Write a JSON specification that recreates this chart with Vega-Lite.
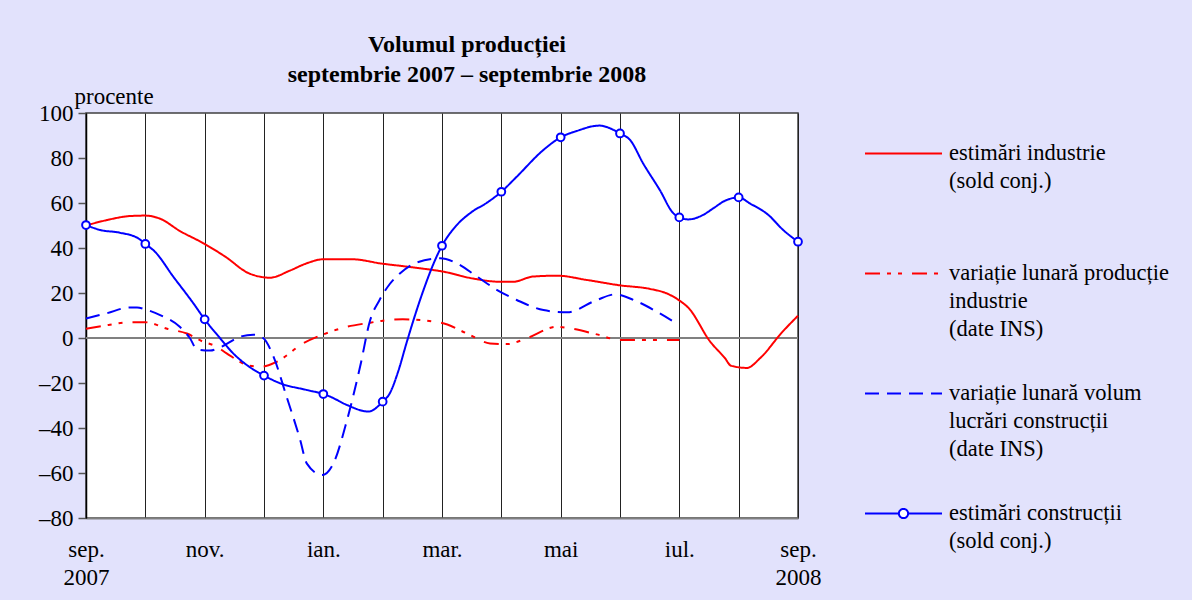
{
  "$schema": "https://vega.github.io/schema/vega-lite/v6.json",
  "width": 712,
  "height": 405,
  "autosize": {"type": "none"},
  "padding": {"left": 86, "top": 113, "right": 394, "bottom": 82},
  "background": "#e2e2fc",
  "view": {"fill": "white", "stroke": "#404040", "strokeWidth": 1.5},
  "config": {"font": "Liberation Serif"},
  "title": {
    "text": ["Volumul producției", "septembrie 2007 – septembrie 2008"],
    "font": "Liberation Serif",
    "fontSize": 24,
    "fontWeight": "bold",
    "lineHeight": 30,
    "anchor": "middle",
    "dx": 25,
    "dy": 27,
    "offset": 25,
    "color": "black"
  },
  "data": {
    "values": [
      {"s": "estimări industrie", "m": 0, "v": 50},
      {"s": "estimări industrie", "m": 0.35, "v": 52.4},
      {"s": "estimări industrie", "m": 0.74, "v": 54.2},
      {"s": "estimări industrie", "m": 1, "v": 54.4},
      {"s": "estimări industrie", "m": 1.25, "v": 53},
      {"s": "estimări industrie", "m": 1.58, "v": 47.6},
      {"s": "estimări industrie", "m": 2, "v": 41.8},
      {"s": "estimări industrie", "m": 2.35, "v": 36.1},
      {"s": "estimări industrie", "m": 2.75, "v": 28.7},
      {"s": "estimări industrie", "m": 3.1, "v": 26.8},
      {"s": "estimări industrie", "m": 3.44, "v": 30},
      {"s": "estimări industrie", "m": 3.72, "v": 33.2},
      {"s": "estimări industrie", "m": 4, "v": 35},
      {"s": "estimări industrie", "m": 4.48, "v": 35},
      {"s": "estimări industrie", "m": 5, "v": 33},
      {"s": "estimări industrie", "m": 5.29, "v": 32.1},
      {"s": "estimări industrie", "m": 5.63, "v": 31},
      {"s": "estimări industrie", "m": 6.02, "v": 29.5},
      {"s": "estimări industrie", "m": 6.51, "v": 26.5},
      {"s": "estimări industrie", "m": 6.98, "v": 25},
      {"s": "estimări industrie", "m": 7.2, "v": 25},
      {"s": "estimări industrie", "m": 7.53, "v": 27.3},
      {"s": "estimări industrie", "m": 7.94, "v": 27.7},
      {"s": "estimări industrie", "m": 8.44, "v": 25.8},
      {"s": "estimări industrie", "m": 9, "v": 23.4},
      {"s": "estimări industrie", "m": 9.51, "v": 21.8},
      {"s": "estimări industrie", "m": 9.79, "v": 19.8},
      {"s": "estimări industrie", "m": 10.01, "v": 16.5},
      {"s": "estimări industrie", "m": 10.15, "v": 13.5},
      {"s": "estimări industrie", "m": 10.52, "v": -1.6},
      {"s": "estimări industrie", "m": 10.77, "v": -9},
      {"s": "estimări industrie", "m": 10.87, "v": -12.3},
      {"s": "estimări industrie", "m": 11.14, "v": -13.3},
      {"s": "estimări industrie", "m": 11.36, "v": -9},
      {"s": "estimări industrie", "m": 11.73, "v": 2.5},
      {"s": "estimări industrie", "m": 12, "v": 9.9},

      {"s": "variație lunară producție industrie", "m": 0, "v": 4.1},
      {"s": "variație lunară producție industrie", "m": 0.38, "v": 5.8},
      {"s": "variație lunară producție industrie", "m": 0.74, "v": 7},
      {"s": "variație lunară producție industrie", "m": 1, "v": 7},
      {"s": "variație lunară producție industrie", "m": 1.38, "v": 4},
      {"s": "variație lunară producție industrie", "m": 1.7, "v": 2},
      {"s": "variație lunară producție industrie", "m": 1.97, "v": -1.6},
      {"s": "variație lunară producție industrie", "m": 2.2, "v": -3.8},
      {"s": "variație lunară producție industrie", "m": 2.37, "v": -6.8},
      {"s": "variație lunară producție industrie", "m": 2.76, "v": -12.3},
      {"s": "variație lunară producție industrie", "m": 2.97, "v": -12.7},
      {"s": "variație lunară producție industrie", "m": 3.22, "v": -10.5},
      {"s": "variație lunară producție industrie", "m": 3.66, "v": -2.4},
      {"s": "variație lunară producție industrie", "m": 4, "v": 1.6},
      {"s": "variație lunară producție industrie", "m": 4.4, "v": 5},
      {"s": "variație lunară producție industrie", "m": 4.79, "v": 6.8},
      {"s": "variație lunară producție industrie", "m": 5, "v": 7.7},
      {"s": "variație lunară producție industrie", "m": 5.34, "v": 8.3},
      {"s": "variație lunară producție industrie", "m": 5.98, "v": 6.8},
      {"s": "variație lunară producție industrie", "m": 6.42, "v": 2},
      {"s": "variație lunară producție industrie", "m": 6.81, "v": -2.4},
      {"s": "variație lunară producție industrie", "m": 7.1, "v": -2.7},
      {"s": "variație lunară producție industrie", "m": 7.43, "v": -0.1},
      {"s": "variație lunară producție industrie", "m": 7.94, "v": 5},
      {"s": "variație lunară producție industrie", "m": 8.16, "v": 4.3},
      {"s": "variație lunară producție industrie", "m": 8.61, "v": 1.6},
      {"s": "variație lunară producție industrie", "m": 9, "v": -0.9},
      {"s": "variație lunară producție industrie", "m": 10, "v": -0.9},

      {"s": "variație lunară volum lucrări construcții", "m": 0, "v": 8.7},
      {"s": "variație lunară volum lucrări construcții", "m": 0.35, "v": 11},
      {"s": "variație lunară volum lucrări construcții", "m": 0.74, "v": 13.6},
      {"s": "variație lunară volum lucrări construcții", "m": 0.86, "v": 13.6},
      {"s": "variație lunară volum lucrări construcții", "m": 1, "v": 12.7},
      {"s": "variație lunară volum lucrări construcții", "m": 1.25, "v": 10.2},
      {"s": "variație lunară volum lucrări construcții", "m": 1.58, "v": 5},
      {"s": "variație lunară volum lucrări construcții", "m": 1.75, "v": 0},
      {"s": "variație lunară volum lucrări construcții", "m": 1.87, "v": -5},
      {"s": "variație lunară volum lucrări construcții", "m": 2.09, "v": -5.6},
      {"s": "variație lunară volum lucrări construcții", "m": 2.29, "v": -3.8},
      {"s": "variație lunară volum lucrări construcții", "m": 2.6, "v": 0.6},
      {"s": "variație lunară volum lucrări construcții", "m": 2.82, "v": 1.5},
      {"s": "variație lunară volum lucrări construcții", "m": 2.99, "v": -0.1},
      {"s": "variație lunară volum lucrări construcții", "m": 3.16, "v": -8.3},
      {"s": "variație lunară volum lucrări construcții", "m": 3.38, "v": -26},
      {"s": "variație lunară volum lucrări construcții", "m": 3.61, "v": -45.3},
      {"s": "variație lunară volum lucrări construcții", "m": 3.72, "v": -55.7},
      {"s": "variație lunară volum lucrări construcții", "m": 3.98, "v": -60.9},
      {"s": "variație lunară volum lucrări construcții", "m": 4.17, "v": -55.7},
      {"s": "variație lunară volum lucrări construcții", "m": 4.4, "v": -36.4},
      {"s": "variație lunară volum lucrări construcții", "m": 4.62, "v": -12.7},
      {"s": "variație lunară volum lucrări construcții", "m": 4.79, "v": 8},
      {"s": "variație lunară volum lucrări construcții", "m": 4.95, "v": 17},
      {"s": "variație lunară volum lucrări construcții", "m": 5.12, "v": 24},
      {"s": "variație lunară volum lucrări construcții", "m": 5.29, "v": 28.7},
      {"s": "variație lunară volum lucrări construcții", "m": 5.58, "v": 33.6},
      {"s": "variație lunară volum lucrări construcții", "m": 5.97, "v": 35.4},
      {"s": "variație lunară volum lucrări construcții", "m": 6.25, "v": 33.2},
      {"s": "variație lunară volum lucrări construcții", "m": 6.59, "v": 27.3},
      {"s": "variație lunară volum lucrări construcții", "m": 6.93, "v": 21.3},
      {"s": "variație lunară volum lucrări construcții", "m": 7.26, "v": 16.9},
      {"s": "variație lunară volum lucrări construcții", "m": 7.71, "v": 12.4},
      {"s": "variație lunară volum lucrări construcții", "m": 8.11, "v": 11.4},
      {"s": "variație lunară volum lucrări construcții", "m": 8.61, "v": 16.9},
      {"s": "variație lunară volum lucrări construcții", "m": 8.92, "v": 19.4},
      {"s": "variație lunară volum lucrări construcții", "m": 9.23, "v": 16.9},
      {"s": "variație lunară volum lucrări construcții", "m": 9.62, "v": 11.7},
      {"s": "variație lunară volum lucrări construcții", "m": 9.95, "v": 6.5},

      {"s": "estimări construcții", "m": 0, "v": 50.2},
      {"s": "estimări construcții", "m": 0.24, "v": 48},
      {"s": "estimări construcții", "m": 0.57, "v": 46.8},
      {"s": "estimări construcții", "m": 0.88, "v": 44.3},
      {"s": "estimări construcții", "m": 1, "v": 41.8},
      {"s": "estimări construcții", "m": 1.16, "v": 38.4},
      {"s": "estimări construcții", "m": 1.47, "v": 27.3},
      {"s": "estimări construcții", "m": 1.81, "v": 15.4},
      {"s": "estimări construcții", "m": 2, "v": 8.3},
      {"s": "estimări construcții", "m": 2.26, "v": -0.1},
      {"s": "estimări construcții", "m": 2.48, "v": -6.8},
      {"s": "estimări construcții", "m": 2.71, "v": -12},
      {"s": "estimări construcții", "m": 3, "v": -16.7},
      {"s": "estimări construcții", "m": 3.27, "v": -20.1},
      {"s": "estimări construcții", "m": 3.72, "v": -23.1},
      {"s": "estimări construcții", "m": 4, "v": -24.9},
      {"s": "estimări construcții", "m": 4.11, "v": -26},
      {"s": "estimări construcții", "m": 4.4, "v": -29.8},
      {"s": "estimări construcții", "m": 4.76, "v": -32.7},
      {"s": "estimări construcții", "m": 5, "v": -28.3},
      {"s": "estimări construcții", "m": 5.12, "v": -24.6},
      {"s": "estimări construcții", "m": 5.26, "v": -15},
      {"s": "estimări construcții", "m": 5.4, "v": -2.4},
      {"s": "estimări construcții", "m": 5.52, "v": 8},
      {"s": "estimări construcții", "m": 5.63, "v": 16.9},
      {"s": "estimări construcții", "m": 6, "v": 41},
      {"s": "estimări construcții", "m": 6.25, "v": 50.2},
      {"s": "estimări construcții", "m": 6.5, "v": 56},
      {"s": "estimări construcții", "m": 6.75, "v": 60},
      {"s": "estimări construcții", "m": 7, "v": 65},
      {"s": "estimări construcții", "m": 7.26, "v": 71.7},
      {"s": "estimări construcții", "m": 7.71, "v": 83.6},
      {"s": "estimări construcții", "m": 8, "v": 89.2},
      {"s": "estimări construcții", "m": 8.27, "v": 92},
      {"s": "estimări construcții", "m": 8.65, "v": 94.4},
      {"s": "estimări construcții", "m": 9, "v": 90.9},
      {"s": "estimări construcții", "m": 9.17, "v": 88},
      {"s": "estimări construcții", "m": 9.39, "v": 77.6},
      {"s": "estimări construcții", "m": 9.67, "v": 65.8},
      {"s": "estimări construcții", "m": 9.9, "v": 55.4},
      {"s": "estimări construcții", "m": 10, "v": 53.6},
      {"s": "estimări construcții", "m": 10.15, "v": 52.7},
      {"s": "estimări construcții", "m": 10.4, "v": 54.7},
      {"s": "estimări construcții", "m": 10.57, "v": 57.6},
      {"s": "estimări construcții", "m": 10.77, "v": 61},
      {"s": "estimări construcții", "m": 11, "v": 62.5},
      {"s": "estimări construcții", "m": 11.19, "v": 59.8},
      {"s": "estimări construcții", "m": 11.5, "v": 54.7},
      {"s": "estimări construcții", "m": 11.75, "v": 48},
      {"s": "estimări construcții", "m": 12, "v": 42.8}
    ]
  },
  "layer": [
    {
      "mark": {"type": "rule", "color": "#808080", "strokeWidth": 2},
      "encoding": {"y": {"datum": 0, "type": "quantitative"}}
    },
    {
      "mark": {"type": "line", "strokeWidth": 2, "interpolate": "monotone"},
      "encoding": {
        "x": {
          "field": "m",
          "type": "quantitative",
          "scale": {"domain": [0, 12], "nice": false, "zero": false},
          "axis": {
            "title": null,
            "values": [0, 1, 2, 3, 4, 5, 6, 7, 8, 9, 10, 11, 12],
            "grid": true,
            "gridColor": "#222222",
            "gridWidth": 1,
            "ticks": false,
            "domainColor": "#808080",
            "domainWidth": 2,
            "labelFont": "Liberation Serif",
            "labelFontSize": 23,
            "labelColor": "black",
            "labelLineHeight": 28,
            "labelPadding": 20,
            "labelFlush": false,
            "labelOverlap": false,
            "labelBound": false,
            "labelExpr": "datum.value == 0 ? ['sep.', '2007'] : datum.value == 12 ? ['sep.', '2008'] : datum.value == 2 ? 'nov.' : datum.value == 4 ? 'ian.' : datum.value == 6 ? 'mar.' : datum.value == 8 ? 'mai' : datum.value == 10 ? 'iul.' : ''"
          }
        },
        "y": {
          "field": "v",
          "type": "quantitative",
          "scale": {"domain": [-80, 100], "nice": false, "zero": false},
          "axis": {
            "title": "procente",
            "titleAngle": 0,
            "titleAlign": "left",
            "titleBaseline": "alphabetic",
            "titleX": -12,
            "titleY": -10,
            "titleFont": "Liberation Serif",
            "titleFontSize": 23,
            "titleFontWeight": "normal",
            "titleColor": "black",
            "values": [-80, -70, -60, -50, -40, -30, -20, -10, 0, 10, 20, 30, 40, 50, 60, 70, 80, 90, 100],
            "grid": false,
            "domainColor": "black",
            "domainWidth": 1.5,
            "tickColor": "#555555",
            "tickWidth": 1.5,
            "tickSize": {"condition": {"test": "datum.value % 20 == 0", "value": 8}, "value": 4},
            "labelFont": "Liberation Serif",
            "labelFontSize": 23,
            "labelColor": "black",
            "labelPadding": 5,
            "labelOverlap": false,
            "labelBound": false,
            "labelFlush": false,
            "labelExpr": "datum.value % 20 == 0 ? (datum.value < 0 ? '–' + abs(datum.value) : '' + datum.value) : ''"
          }
        },
        "color": {
          "field": "s",
          "type": "nominal",
          "scale": {
            "domain": ["estimări industrie", "variație lunară producție industrie", "variație lunară volum lucrări construcții", "estimări construcții"],
            "range": ["#ff0000", "#ff0000", "#0000ff", "#0000ff"]
          },
          "legend": {
            "orient": "none",
            "legendX": 778,
            "legendY": 1,
            "title": null,
            "padding": 0,
            "symbolType": "stroke",
            "symbolSize": 5929,
            "symbolStrokeWidth": 2,
            "labelFont": "Liberation Serif",
            "labelFontSize": 22.5,
            "labelColor": "black",
            "labelLimit": 400,
            "labelOffset": 6,
            "labelBaseline": "top",
            "rowPadding": 14,
            "gridAlign": "all",
            "labelExpr": "datum.label == 'estimări industrie' ? ['estimări industrie', '(sold conj.)'] : datum.label == 'variație lunară producție industrie' ? ['variație lunară producție', 'industrie', '(date INS)'] : datum.label == 'variație lunară volum lucrări construcții' ? ['variație lunară volum', 'lucrări construcții', '(date INS)'] : ['estimări construcții', '(sold conj.)']",
            "encode": {
              "symbols": {
                "update": {
                  "shape": {"signal": "datum.value == 'estimări construcții' ? 'M-1,0H-0.12M0.12,0H1M-0.12,0A0.12,0.12 0 1,1 0.12,0A0.12,0.12 0 1,1 -0.12,0Z' : 'stroke'"},
                  "fill": {"value": "white"}
                }
              },
              "labels": {
                "update": {
                  "lineHeight": {"value": 28},
                  "dy": {"value": -12}
                }
              }
            }
          }
        },
        "strokeDash": {
          "field": "s",
          "type": "nominal",
          "scale": {
            "domain": ["estimări industrie", "variație lunară producție industrie", "variație lunară volum lucrări construcții", "estimări construcții"],
            "range": [[1, 0], [15, 7, 4, 7, 4, 10], [14, 8], [1, 0]]
          },
          "legend": {
            "orient": "none",
            "legendX": 778,
            "legendY": 1,
            "title": null,
            "padding": 0,
            "symbolType": "stroke",
            "symbolSize": 5929,
            "symbolStrokeWidth": 2,
            "labelFont": "Liberation Serif",
            "labelFontSize": 22.5,
            "labelColor": "black",
            "labelLimit": 400,
            "labelOffset": 6,
            "labelBaseline": "top",
            "rowPadding": 14,
            "gridAlign": "all",
            "labelExpr": "datum.label == 'estimări industrie' ? ['estimări industrie', '(sold conj.)'] : datum.label == 'variație lunară producție industrie' ? ['variație lunară producție', 'industrie', '(date INS)'] : datum.label == 'variație lunară volum lucrări construcții' ? ['variație lunară volum', 'lucrări construcții', '(date INS)'] : ['estimări construcții', '(sold conj.)']",
            "encode": {
              "symbols": {
                "update": {
                  "shape": {"signal": "datum.value == 'estimări construcții' ? 'M-1,0H-0.12M0.12,0H1M-0.12,0A0.12,0.12 0 1,1 0.12,0A0.12,0.12 0 1,1 -0.12,0Z' : 'stroke'"},
                  "fill": {"value": "white"}
                }
              },
              "labels": {
                "update": {
                  "lineHeight": {"value": 28},
                  "dy": {"value": -12}
                }
              }
            }
          }
        }
      }
    },
    {
      "transform": [{"filter": "datum.s == 'estimări construcții' && datum.m == floor(datum.m)"}],
      "mark": {"type": "point", "shape": "circle", "filled": true, "fill": "white", "stroke": "#0000ff", "strokeWidth": 2, "size": 60, "opacity": 1},
      "encoding": {
        "x": {"field": "m", "type": "quantitative"},
        "y": {"field": "v", "type": "quantitative"}
      }
    }
  ]
}
